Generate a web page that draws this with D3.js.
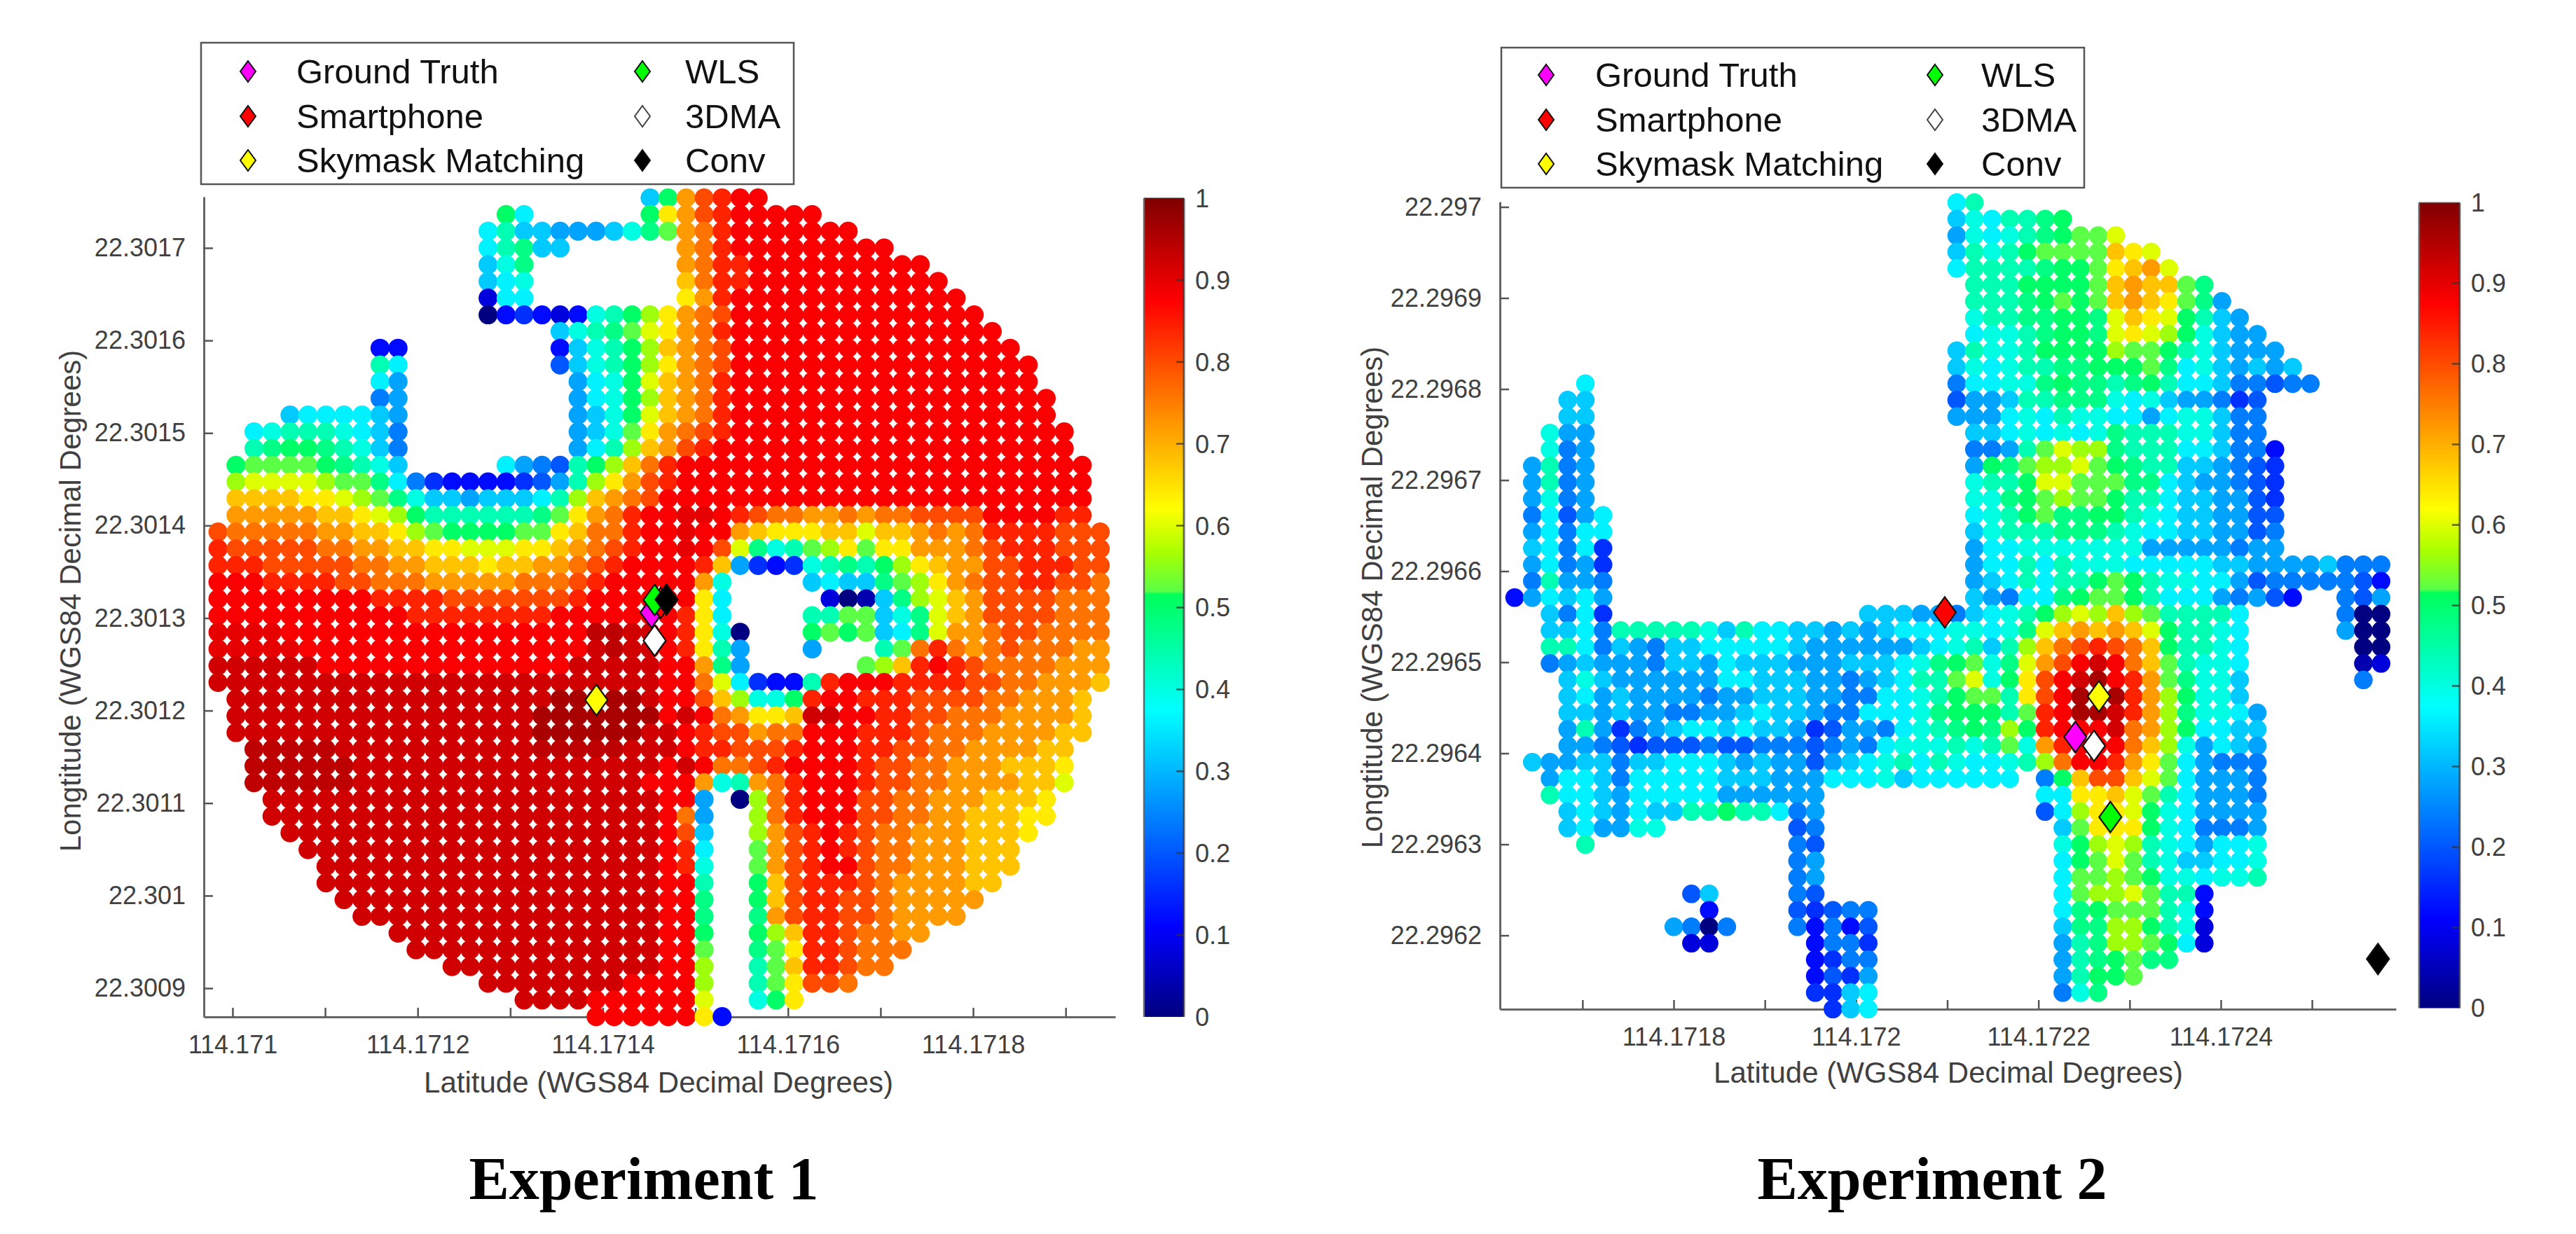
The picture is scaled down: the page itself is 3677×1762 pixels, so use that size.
<!DOCTYPE html>
<html>
<head>
<meta charset="utf-8">
<script src="https://cdnjs.cloudflare.com/ajax/libs/d3/7.8.5/d3.min.js"></script>
<style>
html,body{margin:0;padding:0;background:#fff;}
svg{display:block;}
text{font-family:"Liberation Sans",Arial,sans-serif;}
</style>
</head>
<body>
<div id="chart"></div>
<script>
// ---------- data ----------
const titles = ["Experiment 1", "Experiment 2"];
const xAxisTitle = "Latitude (WGS84 Decimal Degrees)";
const yAxisTitle = "Longtitude (WGS84 Decimal Degrees)";
const methodNames = ["Ground Truth", "Smartphone", "Skymask Matching", "WLS", "3DMA", "Conv"];
const methodColors = ["#ff00ff", "#ff0000", "#ffff00", "#00ff00", "#ffffff", "#000000"];

const exp1Lon = [114.1714526, 114.1714624, 114.1713931, 114.171456, 114.171456, 114.1714688];
const exp1Lat = [22.30130606, 22.30131627, 22.30121136, 22.30131953, 22.30127563, 22.30131999];
const exp2Lon = [114.17224044, 114.17209731, 114.17226632, 114.17227885, 114.17226095, 114.17257232];
const exp2Lat = [22.2964179, 22.29655481, 22.29646251, 22.29632991, 22.29640813, 22.29617407];

const exp1LonTicks = [114.171,114.1711,114.1712,114.1713,114.1714,114.1715,114.1716,114.1717,114.1718,114.1719];
const exp1LonLabels = [114.171,114.1712,114.1714,114.1716,114.1718];
const exp1LatTicks = [22.3017,22.3016,22.3015,22.3014,22.3013,22.3012,22.3011,22.301,22.3009];
const exp2LonTicks = [114.1717,114.1718,114.1719,114.172,114.1721,114.1722,114.1723,114.1724,114.1725];
const exp2LonLabels = [114.1718,114.172,114.1722,114.1724];
const exp2LatTicks = [22.297,22.2969,22.2968,22.2967,22.2966,22.2965,22.2964,22.2963,22.2962];
const colorbarTicks = [0,0.1,0.2,0.3,0.4,0.5,0.6,0.7,0.8,0.9,1];

// Survey grids: first node and spacing, in decimal degrees.
const exp1GridLon = [114.17098426, 1.94513e-5];
const exp1GridLat = [22.30175412, 1.80587e-5];
const exp2GridLon = [114.17162561, 1.93905e-5];
const exp2GridLat = [22.29700477, 1.80752e-5];

// Per-dot likelihood, one letter per grid column: a=0 ... z=1 in steps of 0.04,
// M=0.505, X=0.90, Y=0.94, '.'=no dot. Starts give the first column occupied in each row.
const exp1Starts = [24,16,15,15,15,15,15,15,19,9,9,9,9,4,2,2,1,1,1,1,0,0,0,0,0,0,0,0,0,0,1,1,1,2,2,2,3,3,4,5,6,6,7,8,10,11,13,15,17,21];
const exp1Rows = [
"iMsuvww",
"Mj......Mqsuvwwwww",
"jliihhhikmnstvwwwwwww",
"jlmii......stvwwwwwwwww",
"ikm........stvvwwwwwwwwww",
"ijk........rtvvwwwwwwwwwww",
"cjj........qsvwwwwwwwwwwwww",
"adedcdklMoqstuwwwwwwwwwwwwww",
"iklmnpqstvwwwwwwwwwwwwwww",
"dd........diklMorstuwwwwwwwwwwwwwwww",
"lj........fiklMoqstuwwwwwwwwwwwwwwwww",
"jh.........hjkMprstvwwwwwwwwwwwwwwwww",
"gh.........hjkMorstvwwwwwwwwwwwwwwwwww",
"ijjjjih.........hikMprstvwwwwwwwwwwwwwwwwww",
"jklllkjig.........hiknqstuvwwwwwwwwwwwwwwwwwww",
"lmMMmlkig.........hjlorsuvwwwwwwwwwwwwwwwwwwww",
"MnnnnMmlki.....jhgflMortvwwwwwwwwwwwwwwwwwwwwwww",
"opppponnmjgeddddefhloqsuvwwwwwwwwwwwwwwwwwwwwwww",
"rrrrqqponmkiihiiijlorstuwwwwwwwwwwwwwwwwwwwwwwww",
"sssssrrqpoMllllllmnqstvwwXXwvuttsststtuuuuwwwwvv",
"utttttssrrqonMMMMnnqrttvwwXwwsrqqqrrprrststvvvvuuu",
"vuuuuuttssrrqqpppqqrstuvwwXwupmklnoqnqqssstuvvvuuu",
"vvvuuuuuttssrrrqrrsstuvwwwwvrhedeklmlMoqrssuuvvvuu",
"wwwvvvvuutttssssstttuvwwwwwsk....ijiimnoqstuuvvuut",
"wwwwwwwwwvvvvuuuuuuuvwwwwwwqj.....cabimoprsuuuuttt",
"wwwwwwwwwwwvvvvvvvvwwwwwwwvqj....llnnikmprsuuuuttt",
"XXXXwwwwwwwwwwwwwwwwwYYxxwvqka...MnMnijmpsstuutttt",
"XXXXXwwwwwwwwwwwwwwwwxYxxwvqlh...h...lntvtstutttss",
"xxxxxxwwwwwwwwwwwwwwxxxxxwwsmh......norvwvuttttsss",
"xxxxxxxxxxxxxxxxxxxxxxxxxwwtpjeddlvwwwvvvvuuttsssr",
"xxxxxxxxxxxxxxxxxxyyyyyxwwurokkMvwwvvvuuuuttsssr",
"xxxxxxxxxxxxxxxxxyyyyyyywxwtsqqrxxwwvvuutttssssr",
"xxxxxxxxxxxxxxxxxyyyyyyxxwvuusttwwwvvvutttssssrr",
"YYYYYxxxxxxxxxxxYYYYYxxxwvvuuuvwwwvvuuttssssrr",
"YYYYYYxxxxxxxxxxxxxxxxxwxwttuvwwwwvuuttsssrrrq",
"YYYYYYxxxxxxxxxxxxxxxxwwwsklstvwwwvuuttssssrrp",
"xxxxxxxxxxxxxxxxxxxxxxwwh.aotvwwwuuttsssrrrq",
"xxxxxxxxxxxxxxxxxxxxxxwth..otvwwwuuttssrrrqq",
"xxxxxxxxxxxxxxxxxxxxxwui..osuvwvuttsssrrrq",
"xxxxxxxxxxxxxxxxxxxxwvj..nsuvwvuttsssrrr",
"xxxxxxxxxxxxxxxxxxxwvk..nsuvwwuttsssrrr",
"xxxxxxxxxxxxxxxxxxxwwl..Mruvvvutssssrr",
"xxxxxxxxxxxxxxxxxxwwm..Mruvvuutsssss",
"xxxxxxxxxxxxxxxxxwwm..msuvvuutssss",
"xxxxxxxxxxxxxxxwwM..Morvvuttss",
"xxxxxxxxxxxxxxwwn..mnqvvuttt",
"xxxxxxxxxxxxwwo..lnrvvutt",
"xxxxxxxxwwwwo..lnquut",
"xxxxwwwwwwp..kMq",
"wwwwwwqd"
];

const exp2Starts = [25,25,25,25,25,26,26,26,26,25,25,4,3,3,2,2,1,1,1,1,1,1,1,1,0,2,2,2,2,3,3,3,3,3,1,2,2,3,3,4,16,16,10,11,9,10,17,17,17,18];
const exp2Rows = [
"jl",
"ikjllmM",
"hkjklmMnnp",
"ilklMnnnnrqp",
"jllllmMMnqrsp",
"lllMMMMnrsrrnm",
"lllmMnMnrsrqnmh",
"kllmmMMmprqpMlih",
"jkklmMMmpqpoMkihh",
"ilkklMMMMonnMlkihhh",
"ikjkllmmMMMnmjkihihi",
"j....................gjjkkmMmmlmMljjiggfgg",
"ii....................fhhillmmmkjkihhgef",
"ii....................hhhjkjlkkjjhjkkigg",
"khh.....................iijkjkjkmlllkkigg",
"kgh.....................gghlnpoomllljjiggd",
"hlgh.....................hMmnoopnMmlliihgfe",
"hlgh.....................kllMppnnnmmjihhgfe",
"hkgh.....................kkmMnonnMlljiihhfe",
"gjfhj....................jklMnmmMMlkjiihhff",
"hjgjj....................iklllmmmlkjjiihhfg",
"ijgje....................hjjkkkkkkkhhhhhghh",
"hjghe....................hjjljlkkkjjjjjiihhhhiggg",
"glhhg....................hijljllMnMlkkjjhfgggggfd",
"dhjijh....................ihgjjmMnnMljjjhghfd..gfh",
"igje..............iiihhgijklMoporonllllj.....gaa",
"iijglllllkiljjiihihijjjkkjkmprsrsrpMllkj.....haa",
"lljgihgiijjjjjihhhhhhijklilortuvutrMllkj......aa",
"ghihhhgiihjiiihhhiiijkmMnkmpsuwxwtrnlkkj......bc",
"ikihhhhhhjjiiihhghijllnpkMquwxywvsnmkki......g",
"ijhihhhhghhiiihhggjjklMnnlquwyyyvsoMkki",
"iihihhgghhijiihggjjjkmMMMlnvwyyxvsomkkjh",
"hlheghijjijiihefhhgjklmMmoMvwwwxtsoMjjii",
"hhgfefffgffgggfghgjkkklklnksvwwwtrokhjih",
"ihhiigiijjjihihhfhijkljlkjjklotwwvsqnjhggg",
"hjjigjjjjjiiihhhjjjkijjjjjj.gMruurpnjhhhg",
"ljjihjjjjjhhhhhh............jjqqrpnljhhhg",
"ijihjiillMlljgh............fjoqqpMkjhhhh",
"ijhhkk.......fg.............inqqqMkjgggh",
"l...........gf.............kMopolkjhjjk",
"gh.............jMnpnlkiijjk",
"gh.............jnnonMkkjkkl",
"fi....gf.............jnoopnlld",
"d....fefgg..........jmMnnnlkd",
"hgag...gdgdf..........immooMlkc",
"cc.....dgge..........hlmoonMjc",
"degg..........hlmMnmm",
"dfeh..........hlMMn",
"eeij..........gkm",
"eij"
];

// Colour bar stops (value, colour).
const colorValues = [0, 0.11, 0.375, 0.516, 0.52, 0.568, 0.62, 0.875, 1];
const colorStops = ["#000080", "#0000ff", "#00ffff", "#00ff5a", "#5aff46", "#aaff00", "#ffff00", "#ff0000", "#800000"];

// ---------- layout ----------
const W = 3677, H = 1762;
const panels = [
  {title: titles[0], cx: 919, lon: exp1Lon, lat: exp1Lat, gridLon: exp1GridLon, gridLat: exp1GridLat,
   starts: exp1Starts, rows: exp1Rows, lonTicks: exp1LonTicks, lonLabels: exp1LonLabels, latTicks: exp1LatTicks,
   xDom: [114.170969, 114.17195364], yDom: [22.30086897, 22.30175525],
   left: 291, right: 1592, top: 281, bottom: 1452, r: 13.6,
   bar: {x0: 1633, x1: 1690, y0: 283, y1: 1452},
   leg: {x0: 287, x1: 1133, y0: 61, y1: 263, mx: [354, 917], tx: [423, 978], ys: [102, 166, 229]},
   xTitleX: 940, xTitleY: 1560, yTitleX: 100, yTitleY: 858},
  {title: titles[1], cx: 2758, lon: exp2Lon, lat: exp2Lat, gridLon: exp2GridLon, gridLat: exp2GridLat,
   starts: exp2Starts, rows: exp2Rows, lonTicks: exp2LonTicks, lonLabels: exp2LonLabels, latTicks: exp2LatTicks,
   xDom: [114.17160948, 114.17259206], yDom: [22.29611893, 22.29700577],
   left: 2141, right: 3420, top: 288, bottom: 1441, r: 13.3,
   bar: {x0: 3453, x1: 3511, y0: 289.5, y1: 1439.5},
   leg: {x0: 2143, x1: 2975, y0: 68, y1: 268, mx: [2207, 2762], tx: [2277, 2828], ys: [107, 171, 234]},
   xTitleX: 2781, xTitleY: 1546, yTitleX: 1958, yTitleY: 853}
];

const letterValue = ch => ch === "M" ? 0.505 : ch === "X" ? 0.90 : ch === "Y" ? 0.94 : (ch.charCodeAt(0) - 97) * 0.04;
const color = d3.scaleLinear().domain(colorValues).range(colorStops).clamp(true);
const TICK = "#404040", FS = 36;

const svg = d3.select("#chart").append("svg").attr("width", W).attr("height", H)
  .attr("viewBox", `0 0 ${W} ${H}`).style("background", "#fff");

const defs = svg.append("defs");
const grad = defs.append("linearGradient").attr("id", "jetbar").attr("x1", 0).attr("x2", 0).attr("y1", 1).attr("y2", 0);
colorValues.forEach((v, i) => grad.append("stop").attr("offset", v).attr("stop-color", colorStops[i]));

const diamond = (hw, hh) => `M0,${-hh}L${hw},0L0,${hh}L${-hw},0Z`;

panels.forEach(p => {
  const g = svg.append("g");
  const x = d3.scaleLinear().domain(p.xDom).range([p.left, p.right]);
  const y = d3.scaleLinear().domain(p.yDom).range([p.bottom, p.top]);

  const xAxis = d3.axisBottom(x).tickValues(p.lonTicks).tickSizeInner(-13).tickSizeOuter(0).tickPadding(26)
    .tickFormat(d => p.lonLabels.includes(d) ? String(d) : "");
  const yAxis = d3.axisLeft(y).tickValues(p.latTicks).tickSizeInner(-13).tickSizeOuter(0).tickPadding(26)
    .tickFormat(d => String(d));
  const styleAxis = a => {
    a.select(".domain").attr("stroke", "#666").attr("stroke-width", 3);
    a.selectAll(".tick line").attr("stroke", "#555").attr("stroke-width", 2.5);
    a.selectAll(".tick text").attr("fill", TICK).style("font-size", FS + "px")
      .style("font-family", '"Liberation Sans",Arial,sans-serif');
  };
  g.append("g").attr("transform", `translate(0,${p.bottom})`).call(xAxis).call(styleAxis);
  g.append("g").attr("transform", `translate(${p.left},0)`).call(yAxis).call(styleAxis);

  // dots
  const dots = [];
  p.rows.forEach((row, j) => {
    [...row].forEach((ch, k) => {
      if (ch === ".") return;
      dots.push({lon: p.gridLon[0] + (p.starts[j] + k) * p.gridLon[1],
                 lat: p.gridLat[0] - j * p.gridLat[1], v: letterValue(ch)});
    });
  });
  g.append("g").selectAll("circle").data(dots).join("circle")
    .attr("cx", d => x(d.lon)).attr("cy", d => y(d.lat)).attr("r", p.r)
    .attr("fill", d => color(d.v));

  // method markers
  g.append("g").selectAll("path").data(methodNames).join("path")
    .attr("d", diamond(16, 22))
    .attr("transform", (d, i) => `translate(${x(p.lon[i])},${y(p.lat[i])})`)
    .attr("fill", (d, i) => methodColors[i]).attr("stroke", "#111").attr("stroke-width", 2.2);

  // axis titles
  g.append("text").attr("x", p.xTitleX).attr("y", p.xTitleY).attr("text-anchor", "middle")
    .attr("fill", TICK).style("font-size", "42px").text(xAxisTitle);
  g.append("text").attr("transform", `translate(${p.yTitleX},${p.yTitleY}) rotate(-90)`)
    .attr("text-anchor", "middle").attr("dy", "0.35em")
    .attr("fill", TICK).style("font-size", "42px").text(yAxisTitle);

  // colour bar
  const b = p.bar;
  const cb = d3.scaleLinear().domain([0, 1]).range([b.y1, b.y0]);
  g.append("rect").attr("x", b.x0).attr("y", b.y0).attr("width", b.x1 - b.x0).attr("height", b.y1 - b.y0)
    .attr("fill", "url(#jetbar)");
  g.append("line").attr("x1", b.x0).attr("x2", b.x0).attr("y1", b.y0).attr("y2", b.y1)
    .attr("stroke", "#666").attr("stroke-width", 2.5);
  g.append("line").attr("x1", b.x1).attr("x2", b.x1).attr("y1", b.y0).attr("y2", b.y1)
    .attr("stroke", "#333").attr("stroke-opacity", 0.7).attr("stroke-width", 3);
  g.append("line").attr("x1", b.x0).attr("x2", b.x1).attr("y1", b.y0).attr("y2", b.y0)
    .attr("stroke", "#333").attr("stroke-opacity", 0.6).attr("stroke-width", 2);
  const cbt = g.append("g").selectAll("g").data(colorbarTicks).join("g")
    .attr("transform", d => `translate(0,${cb(d)})`);
  cbt.filter(d => d > 0 && d < 1).append("line").attr("x1", b.x1 - 11).attr("x2", b.x1)
    .attr("stroke", "#333").attr("stroke-opacity", 0.75).attr("stroke-width", 2.5);
  cbt.append("text").attr("x", b.x1 + 16).attr("dy", "0.36em").attr("fill", TICK)
    .style("font-size", FS + "px").text(d => String(d));

  // legend
  const L = p.leg;
  const lg = g.append("g");
  lg.append("rect").attr("x", L.x0).attr("y", L.y0).attr("width", L.x1 - L.x0).attr("height", L.y1 - L.y0)
    .attr("fill", "#fff").attr("stroke", "#555").attr("stroke-width", 2.5);
  methodNames.forEach((name, i) => {
    const col = i < 3 ? 0 : 1, row = i % 3;
    lg.append("path").attr("d", diamond(11, 15))
      .attr("transform", `translate(${L.mx[col]},${L.ys[row]})`)
      .attr("fill", methodColors[i]).attr("stroke", i === 4 ? "#444" : "#111").attr("stroke-width", 2);
    lg.append("text").attr("x", L.tx[col]).attr("y", L.ys[row]).attr("dy", "0.35em")
      .attr("fill", "#111").style("font-size", "49px").text(name);
  });

  // panel title
  g.append("text").attr("x", p.cx).attr("y", 1712).attr("text-anchor", "middle")
    .attr("fill", "#000").style("font-family", '"Liberation Serif",serif').style("font-weight", "bold")
    .style("font-size", "86px").text(p.title);
});
</script>
</body>
</html>
